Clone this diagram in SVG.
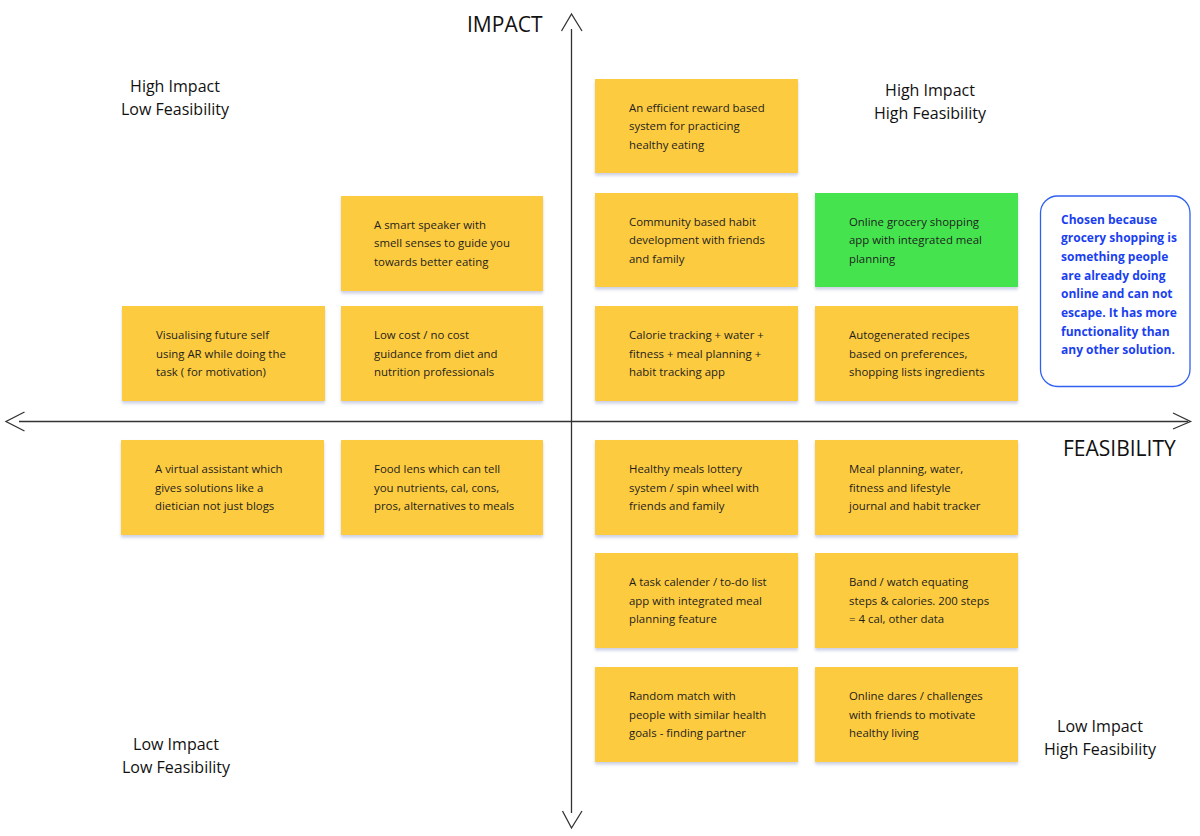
<svg xmlns="http://www.w3.org/2000/svg" width="1200" height="836" viewBox="0 0 1200 836">
<style>
.note{fill:#fdcb3f;filter:url(#sh)}
.green{fill:#44e450;filter:url(#sh)}
.nt{font-family:"Open Sans","Noto Sans",sans-serif;font-size:11.4px;fill:#1e1e1e}
.ql{font-family:"Open Sans","Noto Sans",sans-serif;font-size:16px;fill:#111;text-anchor:middle}
.ax{font-family:"Open Sans","Noto Sans",sans-serif;font-size:21px;fill:#111}
.axis{stroke:#333;stroke-width:1.3;fill:none}
.call{font-family:"Open Sans","Noto Sans",sans-serif;font-size:12px;font-weight:bold;fill:#1a3ff0}
</style>
<defs>
<filter id="sh" x="-10%" y="-10%" width="120%" height="130%">
<feDropShadow dx="0" dy="2.5" stdDeviation="1.5" flood-color="#6a7ab0" flood-opacity="0.35"/>
</filter>
</defs>
<rect width="1200" height="836" fill="#ffffff"/>

<g id="connectors">
<line class="axis" x1="571.5" y1="29" x2="571.5" y2="813"/>
<polyline class="axis" points="561.5,31 571.5,14 582,31"/>
<polyline class="axis" points="562.5,811 571.5,828 582,811"/>
<line class="axis" x1="19" y1="421.5" x2="1188" y2="421.5"/>
<polyline class="axis" points="24.5,412 6,421.5 24.5,431"/>
<polyline class="axis" points="1173,413 1190.5,421.5 1173,429"/>
</g>

<g id="axis-labels">
<text class="ax" x="467" y="32">IMPACT</text>
<text class="ax" x="1063" y="455.5">FEASIBILITY</text>
</g>

<g id="quadrant-labels">
<text class="ql" x="175" y="92">High Impact</text>
<text class="ql" x="175" y="115">Low Feasibility</text>
<text class="ql" x="930" y="96">High Impact</text>
<text class="ql" x="930" y="119">High Feasibility</text>
<text class="ql" x="176" y="750">Low Impact</text>
<text class="ql" x="176" y="773">Low Feasibility</text>
<text class="ql" x="1100" y="732">Low Impact</text>
<text class="ql" x="1100" y="755">High Feasibility</text>
</g>

<g id="n1"><rect class="note" x="595" y="79" width="203" height="94"/>
<text class="nt" x="629" y="111.5">An efficient reward based</text><text class="nt" x="629" y="130">system for practicing</text><text class="nt" x="629" y="148.7">healthy eating</text></g>

<g id="n2"><rect class="note" x="341" y="196" width="202" height="95"/>
<text class="nt" x="374" y="228.5">A smart speaker with</text><text class="nt" x="374" y="247">smell senses to guide you</text><text class="nt" x="374" y="265.7">towards better eating</text></g>

<g id="n3"><rect class="note" x="595" y="193" width="203" height="94"/>
<text class="nt" x="629" y="225.5">Community based habit</text><text class="nt" x="629" y="244">development with friends</text><text class="nt" x="629" y="262.7">and family</text></g>

<g id="n4"><rect class="green" x="815" y="193" width="203" height="94"/>
<text class="nt" x="849" y="225.5">Online grocery shopping</text><text class="nt" x="849" y="244">app with integrated meal</text><text class="nt" x="849" y="262.7">planning</text></g>

<g id="n5"><rect class="note" x="122" y="306" width="203" height="95"/>
<text class="nt" x="156" y="339">Visualising future self</text><text class="nt" x="156" y="357.5">using AR while doing the</text><text class="nt" x="156" y="376.2">task ( for motivation)</text></g>

<g id="n6"><rect class="note" x="341" y="306" width="202" height="95"/>
<text class="nt" x="374" y="339">Low cost / no cost</text><text class="nt" x="374" y="357.5">guidance from diet and</text><text class="nt" x="374" y="376.2">nutrition professionals</text></g>

<g id="n7"><rect class="note" x="595" y="306" width="203" height="95"/>
<text class="nt" x="629" y="339">Calorie tracking + water +</text><text class="nt" x="629" y="357.5">fitness + meal planning +</text><text class="nt" x="629" y="376.2">habit tracking app</text></g>

<g id="n8"><rect class="note" x="815" y="306" width="203" height="95"/>
<text class="nt" x="849" y="339">Autogenerated recipes</text><text class="nt" x="849" y="357.5">based on preferences,</text><text class="nt" x="849" y="376.2">shopping lists ingredients</text></g>

<g id="n9"><rect class="note" x="121" y="440" width="203" height="95"/>
<text class="nt" x="155" y="473">A virtual assistant which</text><text class="nt" x="155" y="491.5">gives solutions like a</text><text class="nt" x="155" y="510.2">dietician not just blogs</text></g>

<g id="n10"><rect class="note" x="341" y="440" width="202" height="95"/>
<text class="nt" x="374" y="473">Food lens which can tell</text><text class="nt" x="374" y="491.5">you nutrients, cal, cons,</text><text class="nt" x="374" y="510.2">pros, alternatives to meals</text></g>

<g id="n11"><rect class="note" x="595" y="440" width="203" height="95"/>
<text class="nt" x="629" y="473">Healthy meals lottery</text><text class="nt" x="629" y="491.5">system / spin wheel with</text><text class="nt" x="629" y="510.2">friends and family</text></g>

<g id="n12"><rect class="note" x="815" y="440" width="203" height="95"/>
<text class="nt" x="849" y="473">Meal planning, water,</text><text class="nt" x="849" y="491.5">fitness and lifestyle</text><text class="nt" x="849" y="510.2">journal and habit tracker</text></g>

<g id="n13"><rect class="note" x="595" y="553" width="203" height="95"/>
<text class="nt" x="629" y="586">A task calender / to-do list</text><text class="nt" x="629" y="604.5">app with integrated meal</text><text class="nt" x="629" y="623.2">planning feature</text></g>

<g id="n14"><rect class="note" x="815" y="553" width="203" height="95"/>
<text class="nt" x="849" y="586">Band / watch equating</text><text class="nt" x="849" y="604.5">steps &amp; calories. 200 steps</text><text class="nt" x="849" y="623.2">= 4 cal, other data</text></g>

<g id="n15"><rect class="note" x="595" y="667" width="203" height="95"/>
<text class="nt" x="629" y="700">Random match with</text><text class="nt" x="629" y="718.5">people with similar health</text><text class="nt" x="629" y="737.2">goals - finding partner</text></g>

<g id="n16"><rect class="note" x="815" y="667" width="203" height="95"/>
<text class="nt" x="849" y="700">Online dares / challenges</text><text class="nt" x="849" y="718.5">with friends to motivate</text><text class="nt" x="849" y="737.2">healthy living</text></g>

<g id="callout">
<rect x="1040.5" y="196" width="149.5" height="190.5" rx="17" fill="#ffffff" stroke="#3060f0" stroke-width="1.3"/>
<text class="call" x="1061" y="223.5">Chosen because</text>
<text class="call" x="1061" y="242.2">grocery shopping is</text>
<text class="call" x="1061" y="260.8">something people</text>
<text class="call" x="1061" y="279.5">are already doing</text>
<text class="call" x="1061" y="298.2">online and can not</text>
<text class="call" x="1061" y="316.8">escape. It has more</text>
<text class="call" x="1061" y="335.5">functionality than</text>
<text class="call" x="1061" y="354.2">any other solution.</text>
</g>
</svg>
